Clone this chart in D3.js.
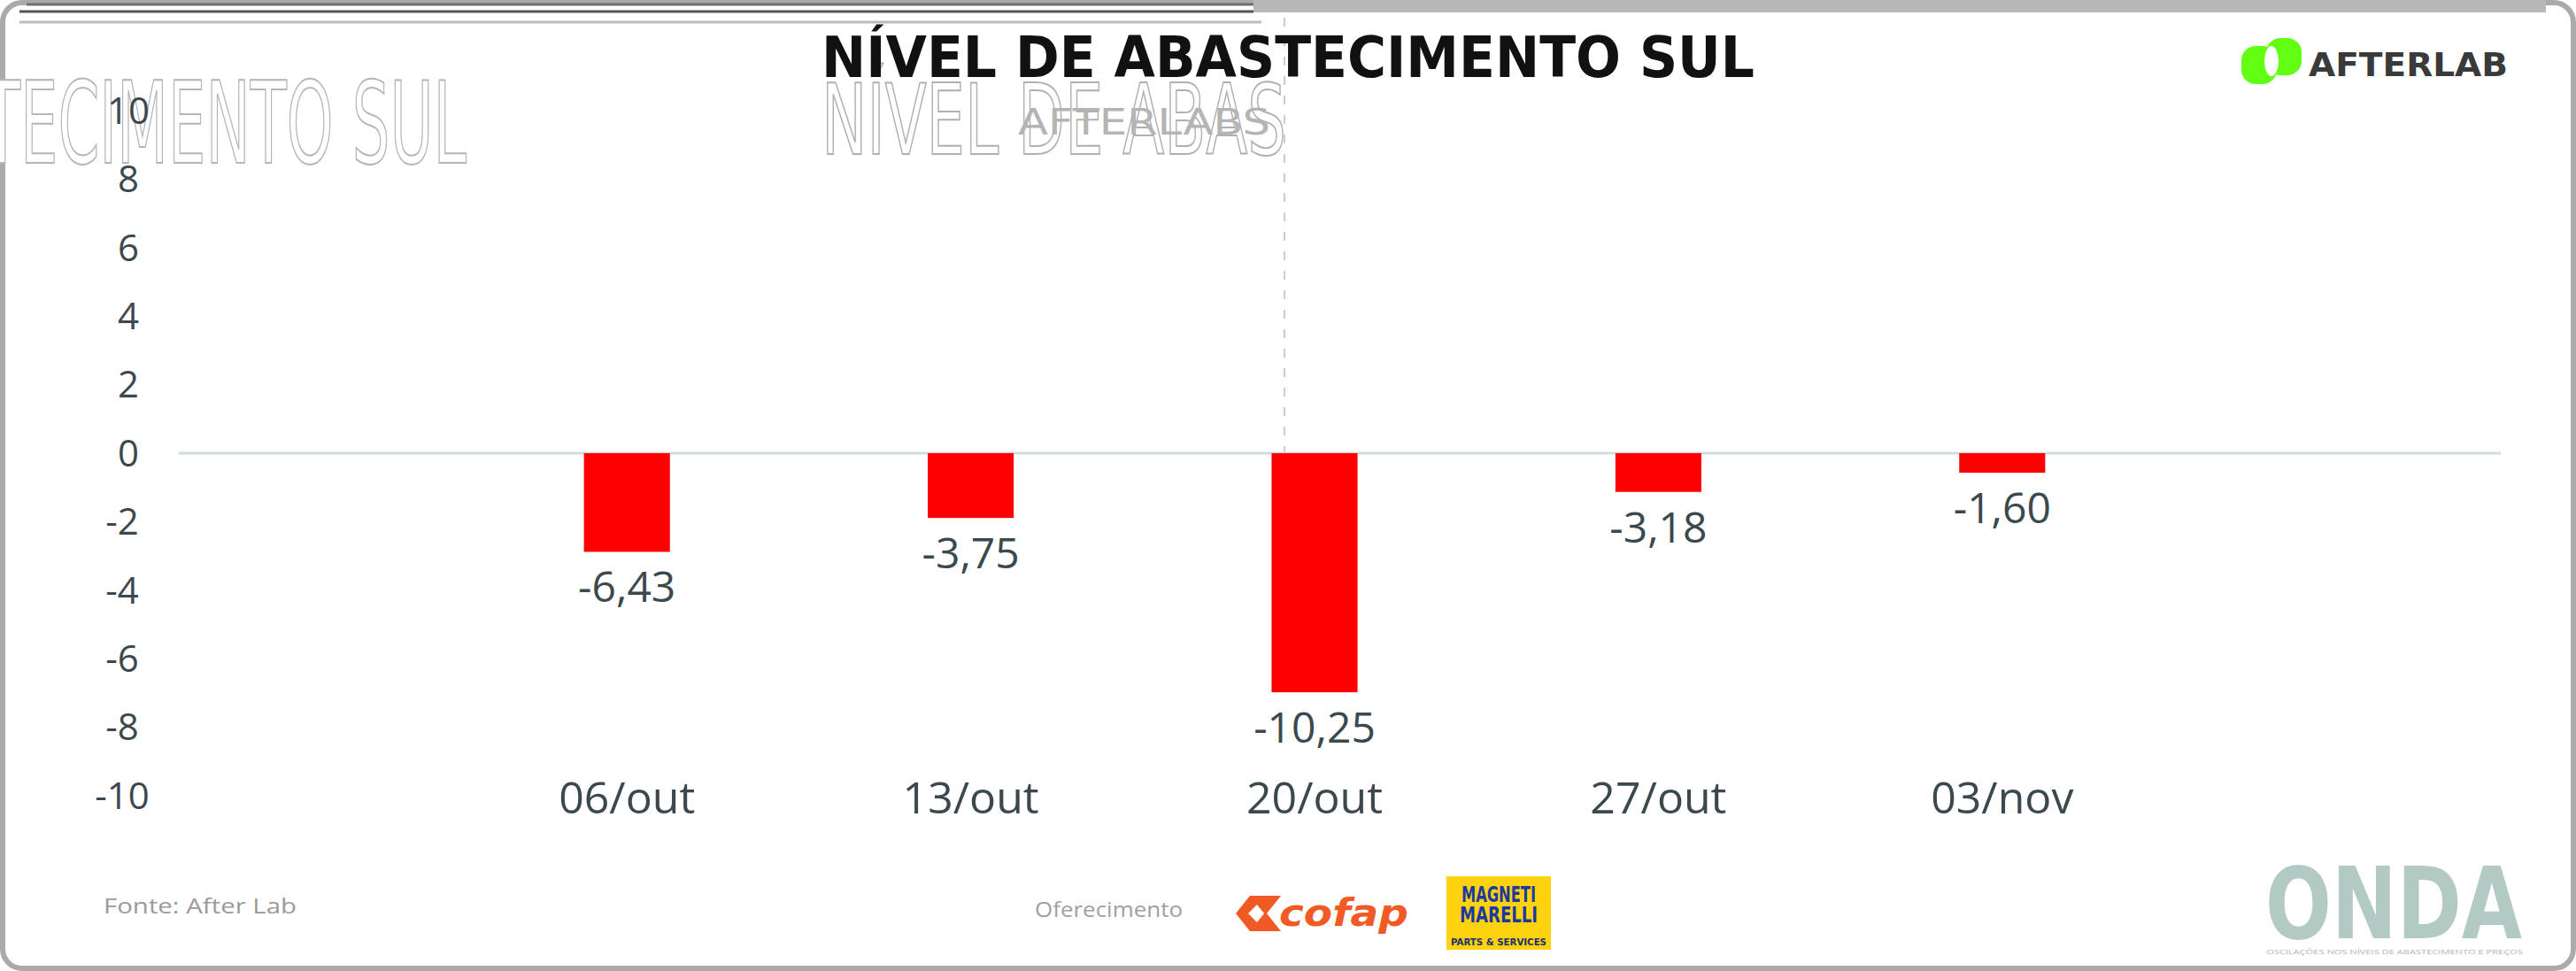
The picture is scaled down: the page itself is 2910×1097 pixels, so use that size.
<!DOCTYPE html>
<html>
<head>
<meta charset="utf-8">
<script src="https://cdn.jsdelivr.net/npm/d3@7"></script>
<style>
  html, body { margin: 0; padding: 0; background: #ffffff; }
  svg { display: block; }
</style>
</head>
<body>
<script>
// ---------- data ----------
const title = "NÍVEL DE ABASTECIMENTO SUL";
const categories = ["06/out", "13/out", "20/out", "27/out", "03/nov"];
// bar lengths as drawn against the axis in the picture
const barValues = [-2.88, -1.89, -6.98, -1.13, -0.57];
// values printed as data labels
const labelValues = [-6.43, -3.75, -10.25, -3.18, -1.60];
const yTickValues = [-10, -8, -6, -4, -2, 0, 2, 4, 6, 8, 10];
const sourceText = "Fonte: After Lab";
const sponsorText = "Oferecimento";
const ondaTagline = "OSCILAÇÕES NOS NÍVEIS DE ABASTECIMENTO E PREÇOS";

// ---------- setup ----------
const W = 2910, H = 1097;
const svg = d3.select("body").append("svg").attr("width", W).attr("height", H);
const textColor = "#3b494e";
const sansFont = "'Open Sans', 'Noto Sans', sans-serif";
const narrowFont = "'Liberation Sans Narrow', 'DejaVu Sans Condensed', 'Roboto', sans-serif";

const ptBR = d3.formatLocale({decimal: ",", thousands: ".", grouping: [3], currency: ["R$", ""], minus: "-"});
const fmt = ptBR.format(".2f");

// ---------- frame / artifacts ----------
svg.append("rect").attr("x", 3).attr("y", 3).attr("width", W - 6).attr("height", H - 6)
  .attr("rx", 22).attr("fill", "none").attr("stroke", "#aaaaaa").attr("stroke-width", 6);
svg.append("rect").attr("x", 1416).attr("y", 0).attr("width", 1460).attr("height", 14).attr("fill", "#b8b8b8");
svg.append("line").attr("x1", 30).attr("x2", 1416).attr("y1", 5).attr("y2", 5).attr("stroke", "#6e6e6e").attr("stroke-width", 3);
svg.append("line").attr("x1", 22).attr("x2", 1416).attr("y1", 13).attr("y2", 13).attr("stroke", "#555").attr("stroke-width", 3);
svg.append("line").attr("x1", 22).attr("x2", 1425).attr("y1", 25).attr("y2", 25).attr("stroke", "#bbb").attr("stroke-width", 3);
svg.append("line").attr("x1", 1451).attr("x2", 1451).attr("y1", 20).attr("y2", 548)
  .attr("stroke", "#cccccc").attr("stroke-width", 2).attr("stroke-dasharray", "10,12");

// ghost outlined texts
svg.append("text").attr("x", -18).attr("y", 184).text("TECIMENTO SUL")
  .attr("font-family", narrowFont).attr("font-size", 128)
  .attr("textLength", 545).attr("lengthAdjust", "spacingAndGlyphs")
  .attr("fill", "#ffffff").attr("stroke", "#b5b5b5").attr("stroke-width", 2);
svg.append("text").attr("x", 928).attr("y", 174).text("NÍVEL DE ABAS")
  .attr("font-family", narrowFont).attr("font-size", 110)
  .attr("textLength", 525).attr("lengthAdjust", "spacingAndGlyphs")
  .attr("fill", "#ffffff").attr("stroke", "#b0b0b0").attr("stroke-width", 2);
svg.append("text").attr("x", 1150).attr("y", 152).text("AFTERLABS")
  .attr("font-family", narrowFont).attr("font-size", 40)
  .attr("textLength", 285).attr("lengthAdjust", "spacingAndGlyphs")
  .attr("fill", "#b4b4b4");

// ---------- title ----------
svg.append("text").attr("x", 928).attr("y", 87).text(title)
  .attr("font-family", narrowFont).attr("font-weight", "bold").attr("font-size", 64)
  .attr("textLength", 1054).attr("lengthAdjust", "spacingAndGlyphs")
  .attr("fill", "#111111");

// ---------- scales ----------
const x = d3.scaleBand().domain(categories).range([514, 2456]).paddingInner(0.75).paddingOuter(0.375);
const y = d3.scaleLinear().domain([-10, 10]).range([899, 125]);

// zero line
svg.append("line").attr("x1", 202).attr("x2", 2825).attr("y1", y(0)).attr("y2", y(0))
  .attr("stroke", "#d3dddb").attr("stroke-width", 3);

// y axis
const yAxis = svg.append("g").attr("transform", "translate(145,0)")
  .call(d3.axisLeft(y).tickValues(yTickValues).tickSize(0));
yAxis.select(".domain").remove();
yAxis.selectAll("text")
  .attr("text-anchor", "middle")
  .attr("x", d => d < 0 ? -7 : 0)
  .attr("dy", "0.34em")
  .attr("font-family", sansFont).attr("font-size", 42).attr("fill", textColor)
  .text(d => d < 0 ? "-" + Math.abs(d) : String(d));

// x axis
const xAxis = svg.append("g").attr("transform", "translate(0,919)")
  .call(d3.axisBottom(x).tickSize(0));
xAxis.select(".domain").remove();
xAxis.selectAll("text").attr("y", 0).attr("dy", 0)
  .attr("font-family", sansFont).attr("font-size", 50).attr("fill", textColor);

// bars
const rows = categories.map((c, i) => ({c, v: barValues[i], label: labelValues[i]}));
svg.append("g").selectAll("rect").data(rows).join("rect")
  .attr("x", d => x(d.c))
  .attr("width", x.bandwidth())
  .attr("y", d => Math.min(y(0), y(d.v)))
  .attr("height", d => Math.abs(y(d.v) - y(0)))
  .attr("fill", "#ff0000");

// data labels
svg.append("g").selectAll("text").data(rows).join("text")
  .attr("x", d => x(d.c) + x.bandwidth() / 2)
  .attr("y", d => y(d.v) + 57)
  .attr("text-anchor", "middle")
  .attr("font-family", sansFont).attr("font-size", 48).attr("fill", textColor)
  .text(d => fmt(d.label));

// ---------- AfterLab logo ----------
const logo = svg.append("g");
logo.append("rect").attr("x", 2532).attr("y", 52).attr("width", 40).attr("height", 43).attr("rx", 16).attr("fill", "#62ff12");
logo.append("rect").attr("x", 2560).attr("y", 43).attr("width", 40).attr("height", 42).attr("rx", 16).attr("fill", "#62ff12");
logo.append("ellipse").attr("cx", 2566).attr("cy", 69).attr("rx", 8).attr("ry", 17).attr("fill", "#ffffff");
logo.append("text").attr("x", 2608).attr("y", 86).text("AFTERLAB")
  .attr("font-family", narrowFont).attr("font-weight", "bold").attr("font-size", 38)
  .attr("textLength", 225).attr("lengthAdjust", "spacingAndGlyphs").attr("fill", "#3a3a3a");

// ---------- footer ----------
svg.append("text").attr("x", 117).attr("y", 1032).text(sourceText)
  .attr("font-family", sansFont).attr("font-size", 24)
  .attr("textLength", 218).attr("lengthAdjust", "spacingAndGlyphs").attr("fill", "#9a9a9a");
svg.append("text").attr("x", 1169).attr("y", 1036).text(sponsorText)
  .attr("font-family", sansFont).attr("font-size", 24)
  .attr("textLength", 167).attr("lengthAdjust", "spacingAndGlyphs").attr("fill", "#a0a0a0");

// cofap
const cofap = svg.append("g");
cofap.append("path")
  .attr("d", "M1396,1032 L1412,1012 L1447,1012 L1431,1032 L1447,1052 L1412,1052 Z")
  .attr("fill", "#f15a24");
cofap.append("path")
  .attr("d", "M1410,1032 L1420,1022 L1428,1032 L1420,1042 Z").attr("fill", "#ffffff");
cofap.append("text").attr("x", 1445).attr("y", 1046).text("cofap")
  .attr("font-family", "'DejaVu Sans', sans-serif").attr("font-weight", "bold").attr("font-style", "italic")
  .attr("font-size", 42).attr("textLength", 146).attr("lengthAdjust", "spacingAndGlyphs").attr("fill", "#f15a24");

// Magneti Marelli
const mm = svg.append("g");
mm.append("rect").attr("x", 1634).attr("y", 990).attr("width", 118).attr("height", 83).attr("fill", "#fdd30f");
mm.append("text").attr("x", 1693).attr("y", 1019).attr("text-anchor", "middle").text("MAGNETI")
  .attr("font-family", narrowFont).attr("font-weight", "bold").attr("font-size", 24)
  .attr("textLength", 84).attr("lengthAdjust", "spacingAndGlyphs").attr("fill", "#1c3a9e");
mm.append("text").attr("x", 1693).attr("y", 1042).attr("text-anchor", "middle").text("MARELLI")
  .attr("font-family", narrowFont).attr("font-weight", "bold").attr("font-size", 24)
  .attr("textLength", 88).attr("lengthAdjust", "spacingAndGlyphs").attr("fill", "#1c3a9e");
mm.append("text").attr("x", 1693).attr("y", 1068).attr("text-anchor", "middle").text("PARTS & SERVICES")
  .attr("font-family", narrowFont).attr("font-weight", "bold").attr("font-size", 10)
  .attr("textLength", 108).attr("lengthAdjust", "spacingAndGlyphs").attr("fill", "#1c2f6e");

// ONDA
svg.append("text").attr("x", 2559).attr("y", 1060).text("ONDA")
  .attr("font-family", "'DejaVu Sans', sans-serif").attr("font-weight", "bold").attr("font-size", 112)
  .attr("textLength", 290).attr("lengthAdjust", "spacingAndGlyphs").attr("fill", "#b3c9c4");
svg.append("text").attr("x", 2560).attr("y", 1078).text(ondaTagline)
  .attr("font-family", sansFont).attr("font-size", 8)
  .attr("textLength", 290).attr("lengthAdjust", "spacingAndGlyphs").attr("fill", "#a9b8b5");
</script>
</body>
</html>
